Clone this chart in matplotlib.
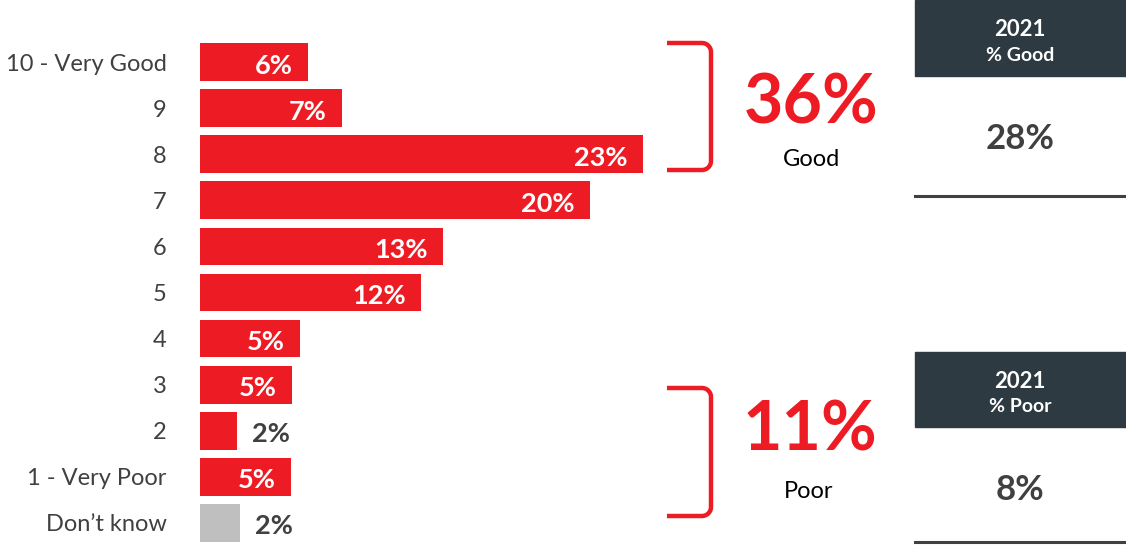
import matplotlib.pyplot as plt
import numpy as np

plt.rcParams['font.family'] = ['Lato', 'DejaVu Sans']

categories = ['10 - Very Good', '9', '8', '7', '6', '5', '4', '3', '2', '1 - Very Poor', 'Don\u2019t know']
values = [5.6, 7.35, 22.95, 20.2, 12.6, 11.45, 5.2, 4.75, 1.9, 4.7, 2.05]
value_labels = ['6%', '7%', '23%', '20%', '13%', '12%', '5%', '5%', '2%', '5%', '2%']
inside = [True, True, True, True, True, True, True, True, False, True, False]

good_total = '36%'
poor_total = '11%'
good_2021 = '28%'
poor_2021 = '8%'

red = '#ed1c24'
grey = '#bfbfbf'
dark = '#404040'
box = '#2d3a41'

W, H = 1126, 545
fig = plt.figure(figsize=(W / 100, H / 100), dpi=100)


def fx(x):
    return x / W


def fy(y):
    return 1 - y / H


ax = fig.add_axes([fx(200), fy(546), fx(19.3 * 30), (546 - 39) / H])
y = np.arange(len(categories))
colors = [red] * (len(categories) - 1) + [grey]
ax.barh(y, values, height=0.82, color=colors)
ax.set_ylim(len(categories) - 0.5, -0.5)
ax.set_xlim(0, 30)
ax.set_yticks(y)
ax.set_yticklabels(categories, fontsize=17, color=dark)
ax.tick_params(axis='y', length=0, pad=24)
ax.set_xticks([])
for s in ax.spines.values():
    s.set_visible(False)
ax.patch.set_alpha(0)

for i, (v, lab, ins) in enumerate(zip(values, value_labels, inside)):
    if ins:
        ax.annotate(lab, (v, i), xytext=(-11, -2.5), textcoords='offset points',
                    ha='right', va='center', color='white', fontsize=19.5, fontweight='bold')
    else:
        ax.annotate(lab, (v, i), xytext=(11, -2.5), textcoords='offset points',
                    ha='left', va='center', color=dark, fontsize=19.5, fontweight='bold')


def bracket(top, bottom):
    r = 9
    t = np.linspace(0, np.pi / 2, 12)
    # top corner then bottom corner, quarter arcs
    xa = 711 - r + r * np.sin(t)
    ya = top + r - r * np.cos(t)
    xb = 711 - r + r * np.cos(t)
    yb = bottom - r + r * np.sin(t)
    xs = np.concatenate([[667], xa, xb, [667]])
    ys = np.concatenate([[top], ya, yb, [bottom]])
    fig.add_artist(plt.Line2D(fx(xs), fy(ys), color=red, lw=3.2, solid_joinstyle='round',
                              solid_capstyle='butt', transform=fig.transFigure))


bracket(43, 170)
bracket(388, 516)

fig.text(fx(811), fy(104), good_total, ha='center', va='center', color=red,
         fontsize=49, fontweight='bold')
fig.text(fx(811), fy(160), 'Good', ha='center', va='center', color='black', fontsize=17)
fig.text(fx(810), fy(431), poor_total, ha='center', va='center', color=red,
         fontsize=49, fontweight='bold')
fig.text(fx(809), fy(492), 'Poor', ha='center', va='center', color='black', fontsize=17)


def panel(top, bottom, label, value, value_y, line_y):
    fig.add_artist(plt.Rectangle((fx(915), fy(bottom)), fx(W - 915), (bottom - top) / H,
                                 color=box, transform=fig.transFigure))
    fig.text(fx(1020), fy(top + 30), '2021', ha='center', va='center', color='white',
             fontsize=16, fontweight='bold')
    fig.text(fx(1020), fy(top + 55), label, ha='center', va='center', color='white',
             fontsize=14, fontweight='bold')
    fig.text(fx(1020), fy(value_y), value, ha='center', va='center', color=dark,
             fontsize=25, fontweight='bold')
    fig.add_artist(plt.Line2D([fx(915), fx(W)], [fy(line_y), fy(line_y)], color=dark,
                              lw=2.2, transform=fig.transFigure))


panel(0, 76, '% Good', good_2021, 139, 196)
panel(352, 427, '% Poor', poor_2021, 490, 542)

fig.savefig('out.png', dpi=100)
